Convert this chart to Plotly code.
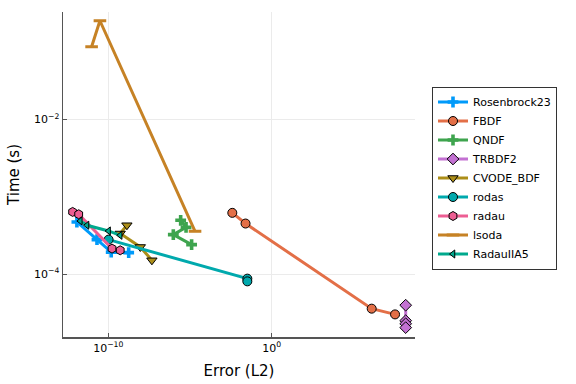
import plotly.graph_objects as go

# log10 values
names = ["Rosenbrock23", "FBDF", "QNDF", "TRBDF2", "CVODE_BDF", "rodas", "radau", "lsoda", "RadauIIA5"]
colors = ["#009AFA", "#E36F47", "#3EA44E", "#C371D2", "#AC8E18", "#00A9AD", "#ED5E93", "#C68225", "#00A98D"]
symbols = ["cross", "circle", "cross", "diamond", "triangle-down", "circle", "hexagon", "line-ew-open", "triangle-left"]

log_err = {
    "Rosenbrock23": [-11.92, -10.69, -9.82, -8.75],
    "FBDF": [-2.41, -1.60, 6.12, 7.55],
    "QNDF": [-5.57, -5.24, -6.02, -4.90],
    "TRBDF2": [8.20, 8.20, 8.20, 8.20],
    "CVODE_BDF": [-8.86, -9.27, -8.04, -7.33],
    "rodas": [-9.98, -1.49, -1.49],
    "radau": [-12.18, -11.81, -9.77, -9.27],
    "lsoda": [-11.02, -10.51, -4.69],
    "RadauIIA5": [-11.71, -11.30, -9.98, -9.27],
}
log_time = {
    "Rosenbrock23": [-3.325, -3.553, -3.714, -3.721],
    "FBDF": [-3.207, -3.345, -4.445, -4.519],
    "QNDF": [-3.303, -3.394, -3.488, -3.617],
    "TRBDF2": [-4.40, -4.60, -4.64, -4.69],
    "CVODE_BDF": [-3.367, -3.474, -3.648, -3.820],
    "rodas": [-3.553, -4.057, -4.092],
    "radau": [-3.195, -3.225, -3.669, -3.691],
    "lsoda": [-1.061, -0.725, -3.445],
    "RadauIIA5": [-3.312, -3.367, -3.441, -3.497],
}

x_tickvals = [1e-10, 1e0]
x_ticktext = ["10<sup>−10</sup>", "10<sup>0</sup>"]
y_tickvals = [1e-4, 1e-2]
y_ticktext = ["10<sup>−4</sup>", "10<sup>−2</sup>"]

fig = go.Figure()
for n, c, s in zip(names, colors, symbols):
    xs = [10 ** v for v in log_err[n]]
    ys = [10 ** v for v in log_time[n]]
    if s == "cross":
        marker = dict(symbol=s, size=9, color=c, line=dict(width=0))
    elif s == "line-ew-open":
        marker = dict(symbol=s, size=9, color=c, line=dict(width=3, color=c))
    elif s == "triangle-left":
        marker = dict(symbol=s, size=7, color=c, line=dict(width=1, color="black"))
    else:
        marker = dict(symbol=s, size=9, color=c, line=dict(width=1, color="black"))
    fig.add_trace(go.Scatter(x=xs, y=ys, mode="lines+markers", name=n,
                             line=dict(color=c, width=3), marker=marker))

axis_common = dict(showline=True, linecolor="#555555", linewidth=1.5, mirror=False,
                   ticks="inside", ticklen=4, tickcolor="#555555",
                   showgrid=True, gridcolor="#EBEBEB", gridwidth=1, zeroline=False,
                   automargin=False,
                   tickfont=dict(size=11, color="black"))

fig.update_xaxes(type="log", range=[-12.77, 8.77], tickvals=x_tickvals, ticktext=x_ticktext,
                 title=dict(text="Error (L2)", font=dict(size=15), standoff=12), **axis_common)
fig.update_yaxes(type="log", range=[-4.811, -0.612], tickvals=y_tickvals, ticktext=y_ticktext,
                 title=dict(text="Time (s)", font=dict(size=15), standoff=10), **axis_common)

L, R, T, B = 63, 161, 12, 47
pw = 576 - L - R
ph = 384 - T - B
fig.update_layout(
    width=576, height=384,
    margin=dict(l=L, r=R, t=T, b=B, autoexpand=False),
    paper_bgcolor="white", plot_bgcolor="white",
    font=dict(family="DejaVu Sans", color="black"),
    legend=dict(x=(432 - L) / pw, xanchor="left",
                y=1 - (178 - T) / ph, yanchor="middle",
                bordercolor="#333333", borderwidth=1, font=dict(size=11),
                tracegroupgap=0, itemwidth=30),
    showlegend=True,
    hovermode=False,
)

fig.write_html("out.html", config={"displayModeBar": False, "staticPlot": True},
               post_script="document.body.style.margin='0';document.body.style.overflow='hidden';")
